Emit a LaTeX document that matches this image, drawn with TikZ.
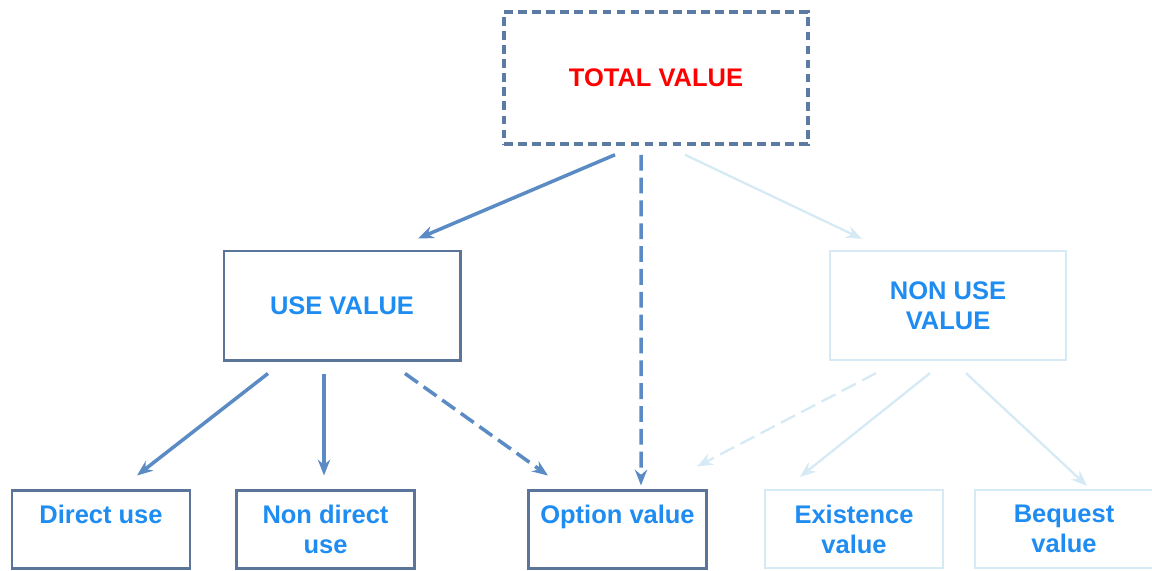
\documentclass[tikz,border=0pt]{standalone}
\usepackage{fontspec}
\setmainfont{Liberation Sans}
\usetikzlibrary{arrows.meta}

\definecolor{boxline}{HTML}{5A7599}
\definecolor{dashline}{HTML}{5B7BA3}
\definecolor{arrline}{HTML}{5B8BC4}
\definecolor{textblue}{HTML}{1E8CF0}
\definecolor{faint}{HTML}{D6EAF5}

\tikzset{
    valuebox/.style={draw=boxline, line width=1.7pt, align=center, inner sep=0pt,
        text=textblue, font=\bfseries\fontsize{14.5}{17}\selectfont},
    leafbox/.style={valuebox, minimum width=3.56cm, minimum height=1.56cm},
    faintbox/.style={draw=faint, line width=1.3pt},
    arr/.style={draw=arrline, line width=2pt, -{Stealth[length=9pt, width=7pt]}},
    faintarr/.style={draw=faint, line width=1.3pt, -{Stealth[length=9pt, width=7pt]}},
    dasharr/.style={arr, dash pattern=on 9pt off 4pt}
}

\begin{document}
\begin{tikzpicture}
    \useasboundingbox (0, 0) rectangle (23.04, -11.4);
    \node[valuebox, draw=dashline, line width=2pt, dash pattern=on 5pt off 3pt, text=red,
        minimum width=6.08cm, minimum height=2.64cm] (total) at (13.12, -1.56) {TOTAL VALUE};
    \node[valuebox, minimum width=4.72cm, minimum height=2.18cm] (use) at (6.84, -6.11) {USE VALUE};
    \node[valuebox, faintbox, minimum width=4.72cm, minimum height=2.18cm] (nonuse) at (18.96, -6.11) {NON USE\\VALUE};
    \node[leafbox] (direct) at (2.02, -10.58) {Direct use\\\mbox{}};
    \node[leafbox] (nondirect) at (6.51, -10.58) {Non direct\\use};
    \node[leafbox] (option) at (12.35, -10.58) {Option value\\\mbox{}};
    \node[leafbox, faintbox] (existence) at (17.08, -10.58) {Existence\\value};
    \node[leafbox, faintbox] (bequest) at (21.28, -10.58) {Bequest\\value};

    \draw[arr] ([shift={(-0.82,-0.18)}]total.south) -- ([shift={(1.52,0.22)}]use.north);
    \draw[dasharr] ([shift={(-0.30,-0.18)}]total.south) -- ([shift={(0.47,0.06)}]option.north);
    \draw[faintarr] ([shift={(0.58,-0.18)}]total.south) -- ([shift={(-1.72,0.22)}]nonuse.north);

    \draw[arr] ([shift={(-1.48,-0.24)}]use.south) -- ([shift={(0.72,0.26)}]direct.north);
    \draw[arr] ([shift={(-0.36,-0.24)}]use.south) -- ([shift={(-0.03,0.26)}]nondirect.north);
    \draw[dasharr] ([shift={(1.26,-0.24)}]use.south) -- ([shift={(-1.39,0.26)}]option.north);

    \draw[faintarr, dash pattern=on 9pt off 4pt] ([shift={(-1.44,-0.24)}]nonuse.south) -- ([shift={(1.59,0.44)}]option.north);
    \draw[faintarr] ([shift={(-0.36,-0.24)}]nonuse.south) -- ([shift={(-1.08,0.24)}]existence.north);
    \draw[faintarr] ([shift={(0.36,-0.24)}]nonuse.south) -- ([shift={(0.46,0.06)}]bequest.north);
\end{tikzpicture}
\end{document}
